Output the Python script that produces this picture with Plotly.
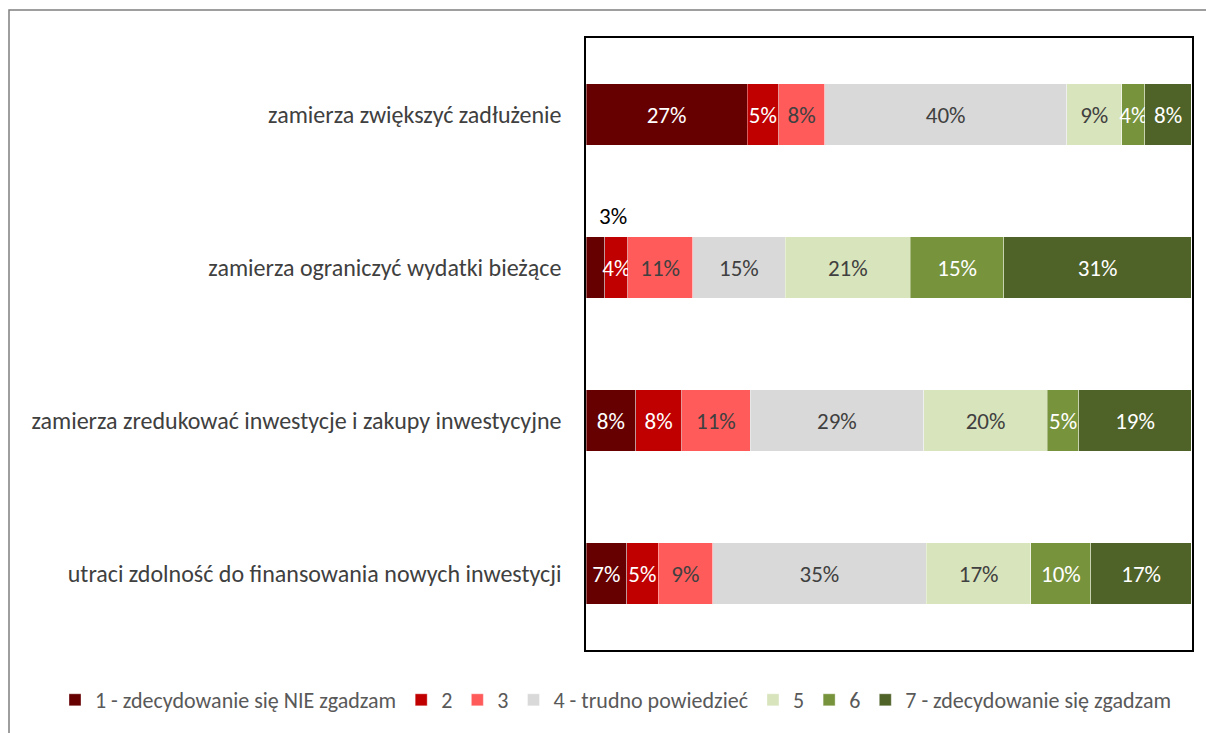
import plotly.graph_objects as go

categories = [
    "zamierza zwiększyć zadłużenie",
    "zamierza ograniczyć wydatki bieżące",
    "zamierza zredukować inwestycje i zakupy inwestycyjne",
    "utraci zdolność do finansowania nowych inwestycji",
]
series_names = [
    "1 - zdecydowanie się NIE zgadzam",
    "2",
    "3",
    "4 - trudno powiedzieć",
    "5",
    "6",
    "7 - zdecydowanie się zgadzam",
]
# values per series (one value per category, in category order), in %
s1 = [26.6, 3.1, 8.2, 6.7]
s2 = [5.2, 3.8, 7.6, 5.2]
s3 = [7.6, 10.7, 11.3, 9.0]
s4 = [40.0, 15.3, 28.7, 35.3]
s5 = [9.1, 20.7, 20.4, 17.3]
s6 = [3.8, 15.4, 5.2, 9.9]
s7 = [7.7, 31.0, 18.6, 16.6]
series_values = [s1, s2, s3, s4, s5, s6, s7]

colors = ["#660000", "#C00000", "#FF5B5B", "#D9D9D9", "#D8E4BC", "#77933C", "#4F6228"]
text_colors = ["#FFFFFF", "#FFFFFF", "#404040", "#404040", "#404040", "#FFFFFF", "#FFFFFF"]

FONT = "Carlito, Lato, sans-serif"

fig = go.Figure()
for i, (name, vals) in enumerate(zip(series_names, series_values)):
    texts = [f"{round(v):d}%" for v in vals]
    if i == 0:
        texts[1] = ""  # this small one is shown above the bar instead
    fig.add_trace(go.Bar(
        y=categories, x=vals, name=name, orientation="h",
        marker=dict(color=colors[i], line=dict(color="rgba(255,255,255,0.6)", width=0.6)),
        text=texts, textposition="inside", insidetextanchor="middle",
        textangle=0, constraintext="none", cliponaxis=False,
        textfont=dict(family=FONT, size=23, color=text_colors[i]),
        hoverinfo="x+y+name",
    ))

fig.add_annotation(
    x=0, y=categories[1], xanchor="left", xshift=11, yshift=52,
    text=f"{round(s1[1]):d}%",
    showarrow=False, font=dict(family=FONT, size=23, color="#000000"),
)

# outer chart frame
fig.add_shape(type="rect", xref="paper", yref="paper",
              x0=(9 - 586) / 606, x1=1.06, y0=-0.2, y1=(650 - 10) / 612,
              line=dict(color="#7F7F7F", width=1.5), fillcolor="rgba(0,0,0,0)", layer="below")

fig.update_layout(
    barmode="stack",
    bargap=0.6,
    width=1206, height=733,
    margin=dict(l=586, r=14, t=38, b=83),
    paper_bgcolor="white", plot_bgcolor="white",
    font=dict(family=FONT, size=23, color="#404040"),
    showlegend=True,
    legend=dict(
        orientation="h", xref="paper", yref="paper",
        x=(55 - 586) / 606, xanchor="left", y=(650 - 700) / 612, yanchor="middle",
        font=dict(family=FONT, size=22, color="#595959"),
        traceorder="normal", itemwidth=30,
    ),
    xaxis=dict(range=[0, 100.1], showticklabels=False, showgrid=False, zeroline=False,
               showline=True, mirror=True, linecolor="#000000", linewidth=1.5, fixedrange=True),
    yaxis=dict(autorange="reversed", showgrid=False, zeroline=False,
               showline=True, mirror=True, linecolor="#000000", linewidth=1.5,
               ticks="", ticklabelstandoff=18,
               tickfont=dict(family=FONT, size=24, color="#404040")),
)

fig.write_html(
    "out.html",
    config={"displayModeBar": False},
    post_script="document.body.style.margin='0';document.body.style.overflow='hidden';",
)
